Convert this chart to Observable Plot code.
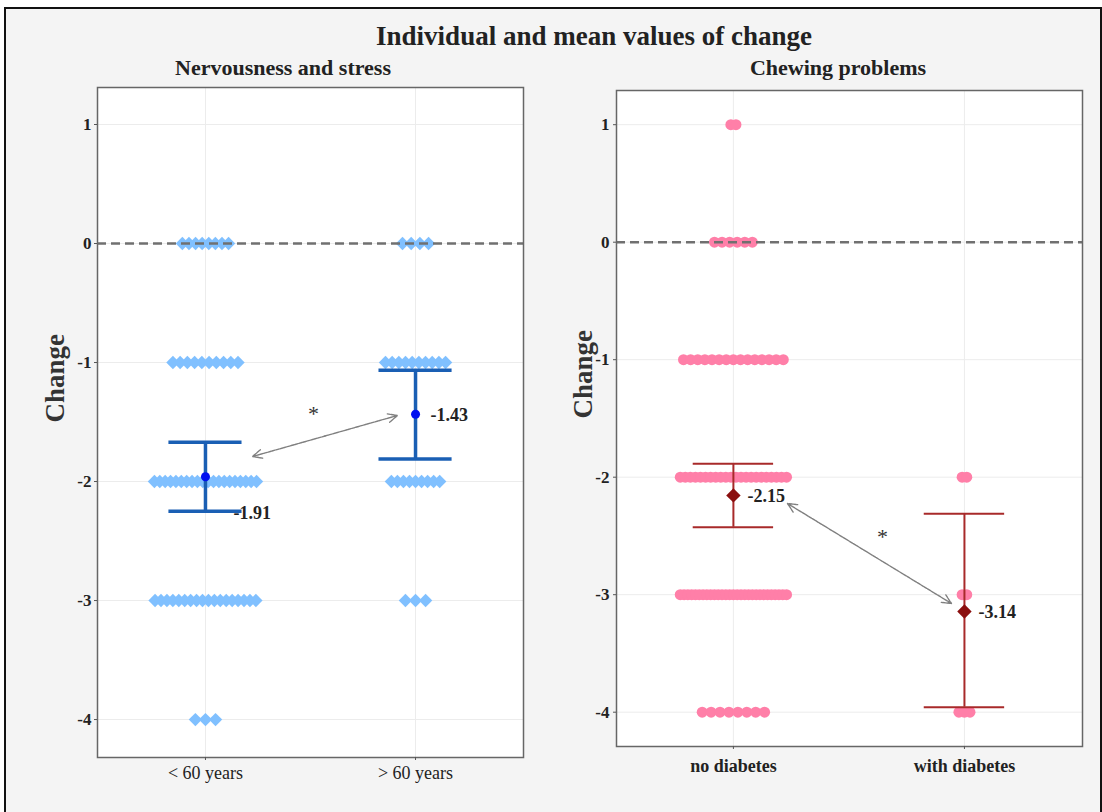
<!DOCTYPE html>
<html>
<head>
<meta charset="utf-8">
<script src="https://cdn.jsdelivr.net/npm/d3@7"></script>
<script src="https://cdn.jsdelivr.net/npm/@observablehq/plot@0.6"></script>
<style>
  html, body { margin: 0; padding: 0; background: #ffffff; }
  #page { position: relative; width: 1102px; height: 812px; overflow: hidden; font-family: "Liberation Serif", "DejaVu Serif", serif; }
  #frame { position: absolute; left: 4px; top: 7px; width: 1094px; height: 820px; border: 2px solid #111; background: #f4f4f4; }
  .t { position: absolute; white-space: nowrap; font-weight: bold; color: #222; line-height: 1; transform: translateX(-50%); }
  #title { left: 594px; top: 23px; font-size: 27px; }
  #sub1 { left: 283px; top: 57px; font-size: 22px; }
  #sub2 { left: 838px; top: 57px; font-size: 22px; }
  #left { position: absolute; left: 0px; top: 80px; }
  #right { position: absolute; left: 540px; top: 80px; }
</style>
</head>
<body>
<div id="page">
  <div id="frame"></div>
  <div class="t" id="title">Individual and mean values of change</div>
  <div class="t" id="sub1">Nervousness and stress</div>
  <div class="t" id="sub2">Chewing problems</div>
  <div id="left"></div>
  <div id="right"></div>
</div>
<script>
// ---------- data ----------
const levels = [1, 0, -1, -2, -3, -4];
const yTicks = [1, 0, -1, -2, -3, -4];

// Panel 1: Nervousness and stress
const groupsNerv = ["< 60 years", "> 60 years"];
const countsNervLt60 = [0, 8, 10, 20, 18, 3];      // number of individuals at each level
const countsNervGt60 = [0, 4, 10, 9, 3, 0];
const jitterNervLt60 = [0, 0.11, 0.155, 0.243, 0.24, 0.048]; // half-width of horizontal jitter (category units)
const jitterNervGt60 = [0, 0.062, 0.143, 0.115, 0.048, 0];
const meanNerv = [-1.96, -1.435];
const hiNerv = [-1.67, -1.065];
const loNerv = [-2.25, -1.81];
const labelNerv = ["-1.91", "-1.43"];
const arrowNerv = {x1: 1.224, y1: -1.79, x2: 1.914, y2: -1.445};
const starNerv = {x: 1.514, y: -1.43};

// Panel 2: Chewing problems
const groupsChew = ["no diabetes", "with diabetes"];
const countsChewNo = [2, 6, 15, 22, 29, 8];
const countsChewYes = [0, 0, 0, 2, 2, 3];
const jitterChewNo = [0.011, 0.082, 0.216, 0.23, 0.23, 0.135];
const jitterChewYes = [0, 0, 0, 0.01, 0.01, 0.024];
const meanChew = [-2.155, -3.143];
const hiChew = [-1.886, -2.311];
const loChew = [-2.426, -3.957];
const labelChew = ["-2.15", "-3.14"];
const arrowChew = {x1: 1.234, y1: -2.224, x2: 1.944, y2: -3.075};
const starChew = {x: 1.645, y: -2.51};

// ---------- helpers ----------
function makePoints(g, counts, jitter) {
  return levels.flatMap((lv, k) => {
    const n = counts[k], s = jitter[k];
    return d3.range(n).map(i => ({x: g + (n > 1 ? -s + 2 * s * i / (n - 1) : 0), y: lv}));
  });
}
function summary(means, lo, hi, labels) {
  return means.map((m, i) => ({g: i + 1, mean: m, lo: lo[i], hi: hi[i], label: labels[i]}));
}
// a double-headed arrow: two arrows drawn from the midpoint towards each end
function doubleArrow(a) {
  const mx = (a.x1 + a.x2) / 2, my = (a.y1 + a.y2) / 2;
  return [{x1: mx, y1: my, x2: a.x1, y2: a.y1}, {x1: mx, y1: my, x2: a.x2, y2: a.y2}];
}
const fmt = d => (d < 0 ? "-" : "") + Math.abs(d);
const CAP = 0.174;
const font = "Liberation Serif";
const arrowStyle = {x1: "x1", y1: "y1", x2: "x2", y2: "y2", stroke: "#808080", strokeWidth: 1.4, strokeDasharray: "3,1", headLength: 11, headAngle: 50, insetStart: 0, insetEnd: 0};

// ---------- left panel ----------
const ptsNerv = [...makePoints(1, countsNervLt60, jitterNervLt60), ...makePoints(2, countsNervGt60, jitterNervGt60)];
const sumNerv = summary(meanNerv, loNerv, hiNerv, labelNerv);
const barNerv = "#1a5fb4";

const left = Plot.plot({
  width: 540, height: 720,
  marginLeft: 97, marginRight: 17, marginTop: 7, marginBottom: 43,
  x: {domain: [0.486, 2.514]},
  y: {domain: [-4.319, 1.311]},
  style: {background: "transparent", fontFamily: font, color: "#222"},
  marks: [
    Plot.frame({fill: "white"}),
    Plot.gridY(yTicks, {stroke: "#ececec", strokeOpacity: 1, strokeWidth: 1}),
    Plot.gridX([1, 2], {stroke: "#ececec", strokeOpacity: 1, strokeWidth: 1}),
    Plot.dot(ptsNerv, {x: "x", y: "y", symbol: "diamond2", r: 6, fill: "#80c0ff"}),
    Plot.ruleY([0], {stroke: "#707070", strokeWidth: 2.5, strokeDasharray: "9,5"}),
    Plot.ruleX(sumNerv, {x: "g", y1: "lo", y2: "hi", stroke: barNerv, strokeWidth: 3.5}),
    Plot.ruleY(sumNerv, {y: "hi", x1: d => d.g - CAP, x2: d => d.g + CAP, stroke: barNerv, strokeWidth: 3.5}),
    Plot.ruleY(sumNerv, {y: "lo", x1: d => d.g - CAP, x2: d => d.g + CAP, stroke: barNerv, strokeWidth: 3.5}),
    Plot.dot(sumNerv, {x: "g", y: "mean", r: 4.5, fill: "#0010f0"}),
    Plot.arrow(doubleArrow(arrowNerv), arrowStyle),
    Plot.text([starNerv], {x: "x", y: "y", text: () => "*", fontSize: 22, fill: "#333"}),
    Plot.text(sumNerv.slice(0, 1), {x: "g", y: "mean", text: "label", dx: 28, dy: 36, textAnchor: "start", fontSize: 18, fontWeight: "bold", fill: "#222"}),
    Plot.text(sumNerv.slice(1), {x: "g", y: "mean", text: "label", dx: 15, dy: 1, textAnchor: "start", fontSize: 18, fontWeight: "bold", fill: "#222"}),
    Plot.frame({stroke: "#666", strokeWidth: 1.5}),
    Plot.axisY(yTicks, {tickFormat: fmt, tickSize: 3, tickPadding: 3, fontSize: 17, fontWeight: "bold", stroke: "#555", fill: "#222", label: null}),
    Plot.axisX([1, 2], {tickFormat: i => groupsNerv[i - 1], tickSize: 3, tickPadding: 6, fontSize: 18, stroke: "#555", fill: "#222", label: null}),
    Plot.text(["Change"], {frameAnchor: "left", rotate: -90, dx: -42, fontSize: 27, fontWeight: "bold", fill: "#333"})
  ]
});
document.getElementById("left").appendChild(left);

// ---------- right panel ----------
const ptsChew = [...makePoints(1, countsChewNo, jitterChewNo), ...makePoints(2, countsChewYes, jitterChewYes)];
const sumChew = summary(meanChew, loChew, hiChew, labelChew);
const barChew = "#a82a2a";

const right = Plot.plot({
  width: 562, height: 720,
  marginLeft: 76, marginRight: 20, marginTop: 10, marginBottom: 54,
  x: {domain: [0.494, 2.511]},
  y: {domain: [-4.292, 1.291]},
  style: {background: "transparent", fontFamily: font, color: "#222"},
  marks: [
    Plot.frame({fill: "white"}),
    Plot.gridY(yTicks, {stroke: "#ececec", strokeOpacity: 1, strokeWidth: 1}),
    Plot.gridX([1, 2], {stroke: "#ececec", strokeOpacity: 1, strokeWidth: 1}),
    Plot.dot(ptsChew, {x: "x", y: "y", r: 5.5, fill: "#ff7fa8"}),
    Plot.ruleY([0], {stroke: "#707070", strokeWidth: 2.5, strokeDasharray: "9,5"}),
    Plot.ruleX(sumChew, {x: "g", y1: "lo", y2: "hi", stroke: barChew, strokeWidth: 2}),
    Plot.ruleY(sumChew, {y: "hi", x1: d => d.g - CAP, x2: d => d.g + CAP, stroke: barChew, strokeWidth: 2}),
    Plot.ruleY(sumChew, {y: "lo", x1: d => d.g - CAP, x2: d => d.g + CAP, stroke: barChew, strokeWidth: 2}),
    Plot.dot(sumChew, {x: "g", y: "mean", symbol: "diamond2", r: 6.5, fill: "#8b0f0f"}),
    Plot.arrow(doubleArrow(arrowChew), arrowStyle),
    Plot.text([starChew], {x: "x", y: "y", text: () => "*", fontSize: 22, fill: "#333"}),
    Plot.text(sumChew, {x: "g", y: "mean", text: "label", dx: 14, dy: 1, textAnchor: "start", fontSize: 18, fontWeight: "bold", fill: "#222"}),
    Plot.frame({stroke: "#666", strokeWidth: 1.5}),
    Plot.axisY(yTicks, {tickFormat: fmt, tickSize: 3, tickPadding: 4, fontSize: 17, fontWeight: "bold", stroke: "#555", fill: "#222", label: null}),
    Plot.axisX([1, 2], {tickFormat: i => groupsChew[i - 1], tickSize: 3, tickPadding: 10, fontSize: 18, fontWeight: "bold", stroke: "#555", fill: "#222", label: null}),
    Plot.text(["Change"], {frameAnchor: "left", rotate: -90, dx: -33, fontSize: 27, fontWeight: "bold", fill: "#333"})
  ]
});
document.getElementById("right").appendChild(right);
</script>
</body>
</html>
